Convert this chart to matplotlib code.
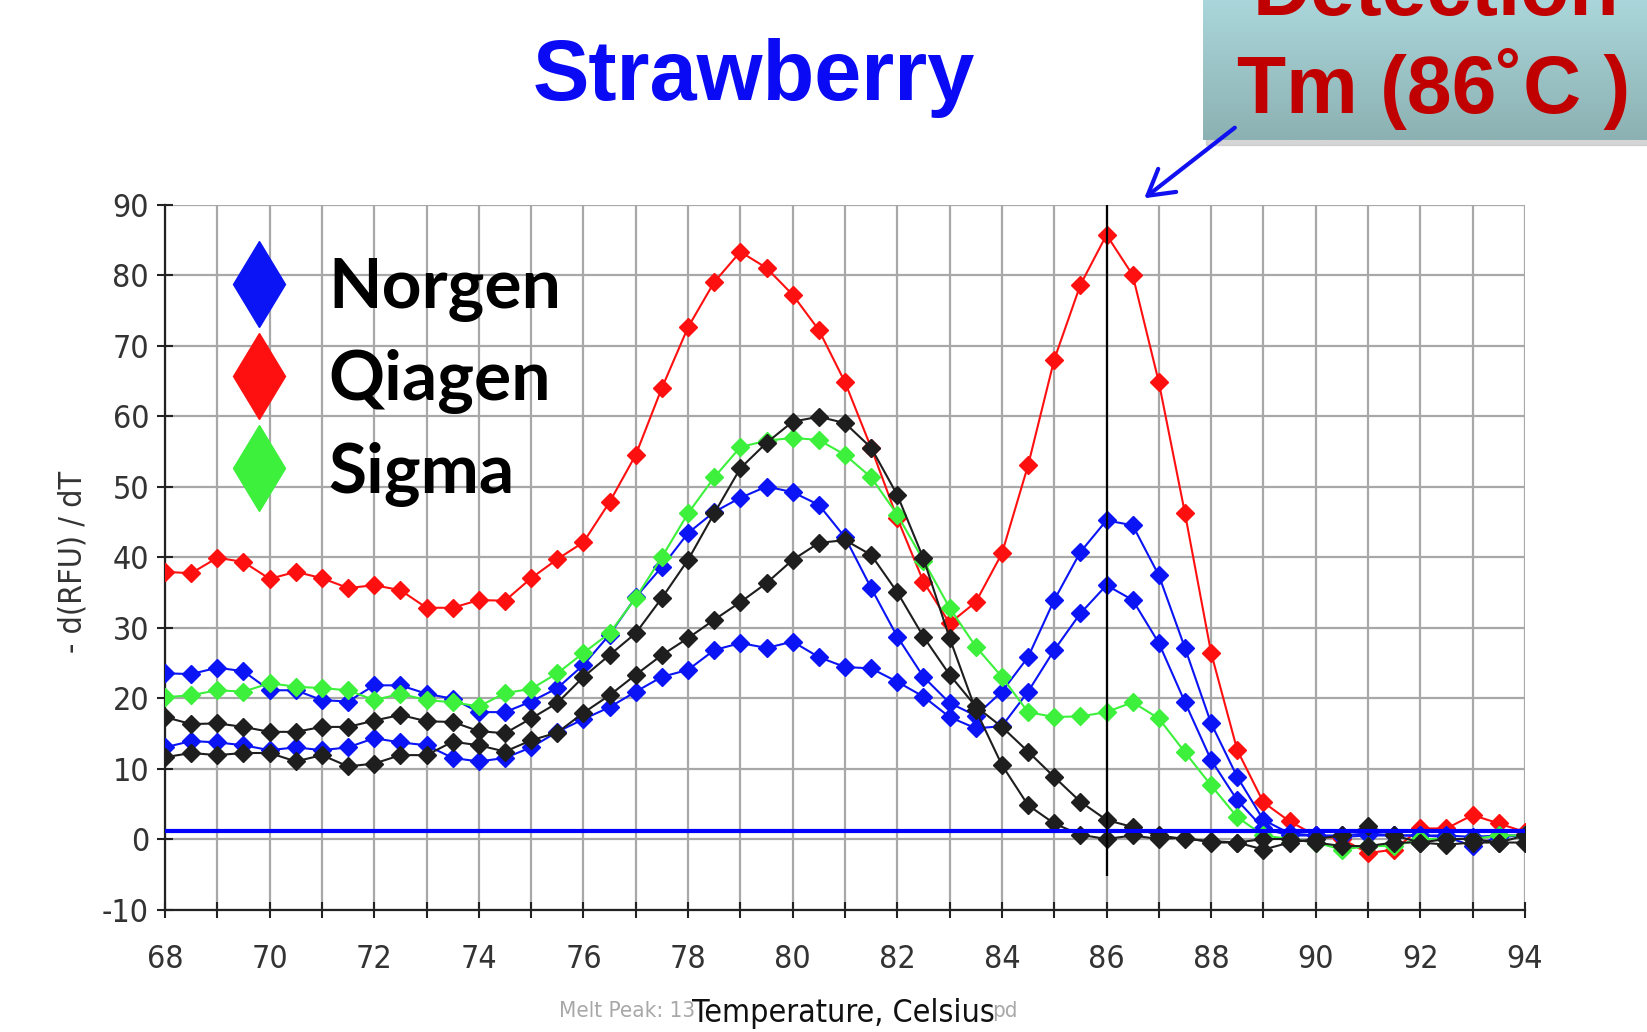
import matplotlib
matplotlib.use("Agg")
import numpy as np
import matplotlib.pyplot as plt
from matplotlib.lines import Line2D
from matplotlib.patches import FancyArrowPatch, Rectangle
from matplotlib.colors import LinearSegmentedColormap

plt.rcParams["axes.unicode_minus"] = False

# Melt curve samples, one every 0.5 C
temps = [68.0, 68.5, 69.0, 69.5, 70.0, 70.5, 71.0, 71.5, 72.0, 72.5, 73.0, 73.5, 74.0,
         74.5, 75.0, 75.5, 76.0, 76.5, 77.0, 77.5, 78.0, 78.5, 79.0, 79.5, 80.0, 80.5,
         81.0, 81.5, 82.0, 82.5, 83.0, 83.5, 84.0, 84.5, 85.0, 85.5, 86.0, 86.5, 87.0,
         87.5, 88.0, 88.5, 89.0, 89.5, 90.0, 90.5, 91.0, 91.5, 92.0, 92.5, 93.0, 93.5, 94.0]

qiagen = [37.9, 37.7, 39.9, 39.3, 36.9, 37.9, 37.0, 35.6, 36.0, 35.3, 32.8, 32.8, 33.9, 33.8, 37.0, 39.7,
          42.1, 47.8, 54.5, 64.0, 72.6, 79.0, 83.3, 81.0, 77.2, 72.2, 64.8, 55.5, 45.5, 36.5, 30.6, 33.6,
          40.5, 53.0, 68.0, 78.6, 85.7, 80.0, 64.8, 46.2, 26.4, 12.6, 5.2, 2.5, 0.5, 0.0, -2.0, -1.5,
          1.5, 1.5, 3.4, 2.2, 1.0]

norgen_1 = [23.5, 23.4, 24.3, 23.8, 21.1, 21.1, 19.7, 19.5, 21.8, 21.8, 20.6, 19.9, 18.0, 18.0, 19.5, 21.4,
            24.7, 29.0, 34.3, 38.6, 43.4, 46.4, 48.4, 50.0, 49.2, 47.4, 42.8, 35.6, 28.7, 23.0, 19.3, 17.5,
            20.9, 25.8, 33.9, 40.7, 45.2, 44.5, 37.4, 27.1, 16.4, 8.8, 2.7, 0.8, 0.5, 0.5, 0.8, 0.5,
            0.5, 0.3, -1.0, 0.3, 0.5]

norgen_2 = [13.0, 13.9, 13.7, 13.3, 12.6, 13.0, 12.6, 13.0, 14.3, 13.7, 13.3, 11.5, 11.0, 11.5, 13.0, 15.2,
            17.0, 18.7, 20.9, 23.0, 24.0, 26.8, 27.8, 27.1, 28.0, 25.8, 24.4, 24.2, 22.3, 20.2, 17.3, 15.7,
            16.0, 20.9, 26.8, 32.0, 36.0, 33.9, 27.8, 19.4, 11.2, 5.5, 1.5, 0.5, 0.5, 0.3, 0.5, 0.5,
            0.5, 0.5, 0.3, 0.5, 0.5]

sigma = [20.1, 20.4, 21.1, 20.9, 22.1, 21.6, 21.4, 21.1, 19.7, 20.6, 19.7, 19.4, 18.8, 20.7, 21.3, 23.5,
         26.4, 29.2, 34.2, 40.0, 46.2, 51.3, 55.6, 56.5, 56.9, 56.6, 54.5, 51.3, 46.0, 39.5, 32.8, 27.3,
         23.0, 18.0, 17.3, 17.4, 18.0, 19.4, 17.1, 12.3, 7.6, 3.1, 0.5, 0.0, -0.5, -1.5, -1.0, -1.0,
         0.0, 0.0, 0.0, 0.5, 0.5]

other_1 = [17.3, 16.3, 16.4, 15.9, 15.2, 15.2, 15.9, 15.9, 16.8, 17.6, 16.7, 16.6, 15.3, 15.0, 17.1, 19.3,
           23.0, 26.1, 29.2, 34.2, 39.6, 46.2, 52.6, 56.2, 59.2, 59.9, 59.0, 55.5, 48.8, 39.8, 28.5, 18.3,
           10.5, 4.8, 2.2, 0.6, 0.0, 0.5, 0.0, 0.2, -0.5, -0.5, -1.5, -0.5, 0.0, 0.5, 1.8, 0.5,
           -0.5, -0.8, -0.5, -0.5, -0.5]

other_2 = [11.6, 12.2, 11.9, 12.2, 12.2, 11.0, 11.9, 10.3, 10.7, 11.9, 11.9, 13.8, 13.3, 12.4, 14.0, 15.1,
           17.9, 20.4, 23.3, 26.1, 28.5, 31.1, 33.6, 36.3, 39.6, 42.0, 42.4, 40.3, 35.0, 28.7, 23.3, 18.8,
           15.9, 12.4, 8.8, 5.3, 2.7, 1.7, 0.5, 0.0, -0.3, -0.5, 0.0, 0.0, -0.5, -1.0, -1.0, -0.5,
           -0.5, 0.0, 0.0, -0.5, 0.5]

threshold = 1.1
tm = 86
tm_bottom = -5.3

RED = "#FF1010"
BLUE = "#0A14F5"
GREEN = "#3CF03C"
BLACK = "#1E1E1E"

tick_font = ["DejaVu Sans", "Liberation Sans"]

fig = plt.figure(figsize=(16.47, 10.32), dpi=100)
ax = fig.add_axes([0.1002, 0.1187, 0.8257, 0.6831])

# curves, bottom to top
series = [(qiagen, RED), (norgen_1, BLUE), (norgen_2, BLUE),
          (sigma, GREEN), (other_1, BLACK), (other_2, BLACK)]
for vals, col in series:
    ax.plot(temps, vals, color=col, lw=1.5, marker="D", markersize=9,
            markeredgecolor=col, markerfacecolor=col, zorder=3)

ax.axhline(threshold, color="#0000FF", lw=3, zorder=5)
ax.vlines(tm, tm_bottom, 90, color="black", lw=1.6, zorder=6)

ax.set_xlim(68, 94)
ax.set_ylim(-10, 90)
ax.set_xticks(range(68, 95, 2))
ax.set_xticks(range(68, 95, 1), minor=True)
ax.set_yticks(range(-10, 91, 10))
ax.grid(which="both", axis="x", color="#A8A8A8", lw=1.6, zorder=0)
ax.grid(which="major", axis="y", color="#A8A8A8", lw=1.6, zorder=0)
ax.set_axisbelow(True)

for s in ["top", "right"]:
    ax.spines[s].set_visible(False)
for s in ["left", "bottom"]:
    ax.spines[s].set_color("#222222")
    ax.spines[s].set_linewidth(1.6)

ax.tick_params(axis="both", which="both", direction="inout", length=11, width=1.5,
               color="#222222", labelcolor="#333333")
ax.tick_params(axis="x", which="major", pad=19)
ax.tick_params(axis="y", pad=6)
for lab in ax.get_xticklabels() + ax.get_yticklabels():
    lab.set_fontfamily(tick_font)
    lab.set_fontstretch("condensed")
    lab.set_fontsize(23)

ax.set_ylabel("- d(RFU) / dT", fontsize=23, family=tick_font, stretch="condensed",
              color="#333333")
ax.yaxis.set_label_coords(-0.056, 0.493)

# x label with the partly hidden file name behind it
fig.text(559 / 1647, 1 - 1017 / 1032, "Melt Peak: 13", fontsize=16, color="#A8A8A8",
         family=tick_font, stretch="condensed", va="baseline", ha="left")
fig.text(992 / 1647, 1 - 1017 / 1032, "pd", fontsize=16, color="#A8A8A8",
         family=tick_font, stretch="condensed", va="baseline", ha="left")
fig.text(843 / 1647, 1 - 1022 / 1032, "Temperature, Celsius", fontsize=23, color="#111111",
         family=tick_font, stretch="condensed", va="baseline", ha="center")

# legend
handles = [Line2D([], [], ls="none", marker="d", markersize=44, color=BLUE),
           Line2D([], [], ls="none", marker="d", markersize=44, color=RED),
           Line2D([], [], ls="none", marker="d", markersize=44, color=GREEN)]
leg = ax.legend(handles, ["Norgen", "Qiagen", "Sigma"], loc="upper left",
                bbox_to_anchor=(0.0434, 0.925), frameon=False, borderpad=0,
                borderaxespad=0, handlelength=1.0, handletextpad=0.5, labelspacing=0.39,
                prop={"family": ["Lato", "DejaVu Sans"], "weight": "bold", "size": 50})

# title
fig.text(754 / 1647, 1 - 100 / 1032, "Strawberry", fontsize=61, fontweight="bold",
         color="#0A0AF5", ha="center", va="baseline", family=["Liberation Sans", "DejaVu Sans"])

# callout box at top right
box_l, box_b = 1203 / 1647, 1 - 140 / 1032
fig.add_artist(Rectangle((box_l + 0.002, box_b - 0.005), 1 - box_l, 140 / 1032,
                         transform=fig.transFigure, color="#C4C4C4", alpha=0.7, zorder=1))
bax = fig.add_axes([box_l, box_b, 1 - box_l, 140 / 1032], zorder=2)
cmap = LinearSegmentedColormap.from_list("box", ["#AAD6DB", "#8CB1B2"])
bax.imshow(np.linspace(0, 1, 100).reshape(-1, 1), aspect="auto", cmap=cmap)
bax.axis("off")

tfont = ["Liberation Sans", "DejaVu Sans"]
fig.text(1436 / 1647, 1 - 15 / 1032, "Detection", fontsize=58, fontweight="bold",
         color="#C00000", ha="center", va="baseline", family=tfont, zorder=5)
fig.text(1434 / 1647, 1 - 113 / 1032, "Tm (86\u02daC )", fontsize=58, fontweight="bold",
         color="#C00000", ha="center", va="baseline", family=tfont, zorder=5)

arrow = FancyArrowPatch((1237 / 1647, 1 - 126 / 1032), (1142 / 1647, 1 - 200 / 1032),
                        transform=fig.transFigure, arrowstyle="->,head_length=0.6,head_width=0.35",
                        mutation_scale=30, color="#1010F0", lw=3, zorder=6)
fig.add_artist(arrow)

fig.savefig("out.png", dpi=100)
